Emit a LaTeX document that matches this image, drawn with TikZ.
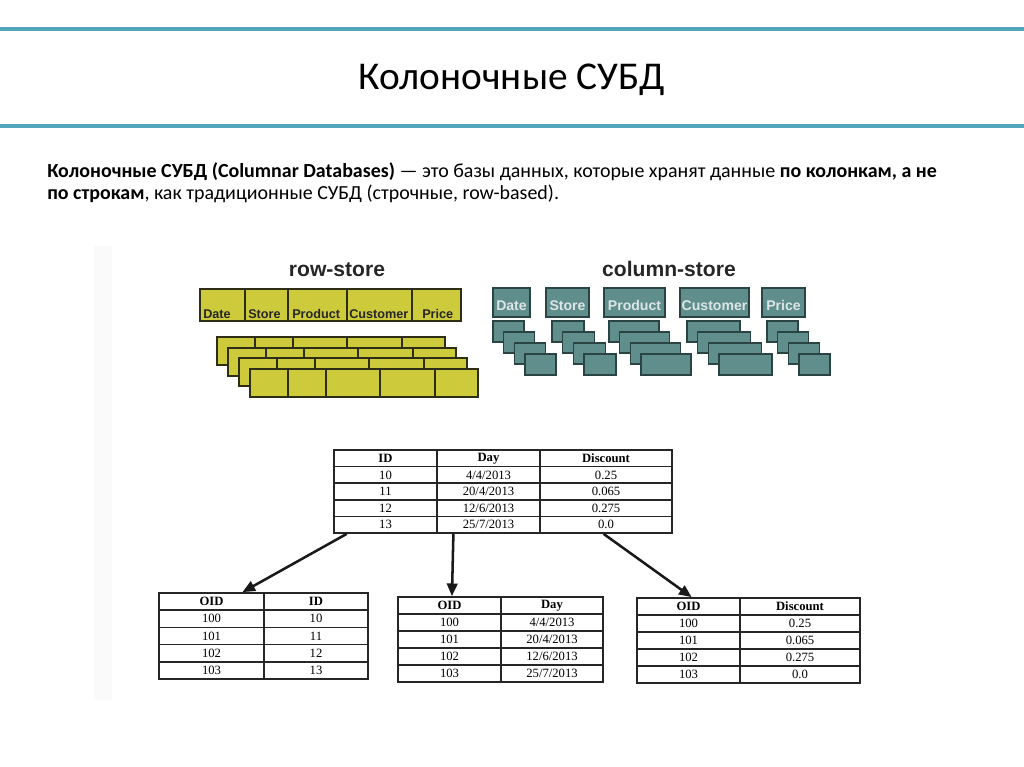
\documentclass[tikz,border=0pt]{standalone}
\usepackage{fontspec}
\setmainfont{Carlito}
\newfontfamily\arialfont{Liberation Sans}
\newfontfamily\timesfont{Liberation Serif}
\usetikzlibrary{arrows.meta, calc, fit}

\definecolor{slideline}{HTML}{52A5BB}
\definecolor{rowyellow}{HTML}{CDCB3C}
\definecolor{rowedge}{HTML}{2E2E14}
\definecolor{colteal}{HTML}{5F8E8C}
\definecolor{coledge}{HTML}{2A4443}
\definecolor{collabel}{HTML}{DCE6E6}

\tikzset{
    slide rule/.style={draw=slideline, line width=2.2pt},
    tblframe/.style={draw=black!85, line width=1.2pt, inner sep=0pt},
    tblrule/.style={draw=black!85, line width=1.2pt},
    cell/.style={font=\timesfont\fontsize{9}{10}\selectfont, inner sep=0pt},
    rowbox/.style={draw=rowedge, fill=rowyellow, line width=1.3pt},
    colbox/.style={draw=coledge, fill=colteal, line width=1.1pt},
    storetitle/.style={font=\arialfont\bfseries\fontsize{15}{18}\selectfont, text=black!85, inner sep=0pt, anchor=base},
    rowlabel/.style={font=\arialfont\bfseries\fontsize{9}{10}\selectfont, text=black!85, inner sep=0pt, anchor=base west},
    collbl/.style={font=\arialfont\bfseries\fontsize{10}{11}\selectfont, text=collabel, inner sep=0pt, anchor=base},
    arr/.style={-{Triangle[length=9pt,width=7.5pt]}, line width=1.8pt, draw=black!90},
}

% table frame with 5 equal rows
\newcommand{\gridtable}[6]{%
    \node[tblframe, fit={(#2,#3)(#4,#5)}] (#1) {};
    \foreach \cx in {#6} \draw[tblrule] (\cx,#3) -- (\cx,#5);
    \foreach \k in {1,...,4} \draw[tblrule] (#2,{#3+\k*(#5-#3)/5}) -- (#4,{#3+\k*(#5-#3)/5});
}

\begin{document}
\begin{tikzpicture}[x=0.025cm, y=-0.025cm]
\useasboundingbox (0,0) rectangle (1024,767);

% --- Slide header ---
\draw[slide rule] (0,29) -- (1024,29);
\draw[slide rule] (0,126) -- (1024,126);
\node[font=\fontsize{28}{32}\selectfont, inner sep=0pt, anchor=base] (title) at (512,90) {Колоночные СУБД};

\node[font=\fontsize{14.2}{16.3}\selectfont, inner sep=0pt, anchor=base west, align=left] (intro) at (47,200)
    {\textbf{Колоночные СУБД (Columnar Databases)} — это базы данных, которые хранят данные \textbf{по колонкам, а не}\\
     \textbf{по строкам}, как традиционные СУБД (строчные, row-based).};

% --- Picture background ---
\fill[black!2] (94,246) rectangle (112,700);

% --- Row store ---
\node[storetitle] (rowtitle) at (337,276) {row-store};
\node[rowbox, inner sep=0pt, fit={(200,289)(461,321)}] (rowhead) {};
\foreach \x in {245,288,347,412} \draw[rowbox] (\x,289) -- (\x,321);
\foreach \x/\t [count=\i] in {203/Date, 248/Store, 292/Product, 349/Customer, 422/Price}
    \node[rowlabel] (rh\i) at (\x,318) {\t};

\foreach \k in {0,...,3} {
    \draw[rowbox] ({217+\k*11},{337+\k*10.7}) rectangle ++(228,28);
    \foreach \d in {38,76,130,185}
        \draw[rowbox] ({217+\k*11+\d},{337+\k*10.7}) -- ++(0,28);
}

% --- Column store ---
\node[storetitle] (coltitle) at (669,276) {column-store};
\foreach \xa/\xb/\t [count=\i] in {493/530/Date, 546/589/Store, 604/665/Product, 680/749/Customer, 762/805/Price} {
    \node[colbox, inner sep=0pt, fit={(\xa,288)(\xb,317)}] (ch\i) {};
    \node[collbl] (cl\i) at ({(\xa+\xb)/2},310) {\t};
}
\foreach \cx/\cw in {493/31, 552/32, 609/50, 687/53, 767/31}
    \foreach \k in {0,...,3}
        \draw[colbox] ({\cx+\k*10.7},{321+\k*11}) rectangle ++(\cw,21);

% --- Source table ---
\gridtable{tabmain}{334}{450}{672}{533}{437,540}
\foreach \a/\b/\c [count=\r from 0] in {\textbf{ID}/\textbf{Day}/\textbf{Discount}, 10/{4/4/2013}/0.25,
        11/{20/4/2013}/0.065, 12/{12/6/2013}/0.275, 13/{25/7/2013}/0.0} {
    \node[cell] (tm-\r-1) at (385.5,{450+(\r+0.5)*16.6}) {\a};
    \node[cell] (tm-\r-2) at (488.5,{450+(\r+0.5)*16.6}) {\b};
    \node[cell] (tm-\r-3) at (606,{450+(\r+0.5)*16.6}) {\c};
}

% --- Column tables ---
\gridtable{tabid}{159}{593}{368}{679}{264}
\foreach \a/\b [count=\r from 0] in {\textbf{OID}/\textbf{ID}, 100/10, 101/11, 102/12, 103/13} {
    \node[cell] (ti-\r-1) at (211.5,{593+(\r+0.5)*17.2}) {\a};
    \node[cell] (ti-\r-2) at (316,{593+(\r+0.5)*17.2}) {\b};
}

\gridtable{tabday}{398}{597}{603}{682}{501}
\foreach \a/\b [count=\r from 0] in {\textbf{OID}/\textbf{Day}, 100/{4/4/2013}, 101/{20/4/2013}, 102/{12/6/2013}, 103/{25/7/2013}} {
    \node[cell] (td-\r-1) at (449.5,{597+(\r+0.5)*17}) {\a};
    \node[cell] (td-\r-2) at (552,{597+(\r+0.5)*17}) {\b};
}

\gridtable{tabdisc}{637}{598}{860}{683}{740}
\foreach \a/\b [count=\r from 0] in {\textbf{OID}/\textbf{Discount}, 100/0.25, 101/0.065, 102/0.275, 103/0.0} {
    \node[cell] (tc-\r-1) at (688.5,{598+(\r+0.5)*17}) {\a};
    \node[cell] (tc-\r-2) at (800,{598+(\r+0.5)*17}) {\b};
}

% --- Split arrows ---
\draw[arr] ($(tabmain.south west)!0.04!(tabmain.south east)$) -- ($(tabid.north west)!0.4!(tabid.north east)$);
\draw[arr] ($(tabmain.south west)!0.354!(tabmain.south east)$) -- ($(tabday.north west)!0.265!(tabday.north east)$);
\draw[arr] ($(tabmain.south west)!0.796!(tabmain.south east)$) -- ($(tabdisc.north west)!0.247!(tabdisc.north east)$);

\end{tikzpicture}
\end{document}
